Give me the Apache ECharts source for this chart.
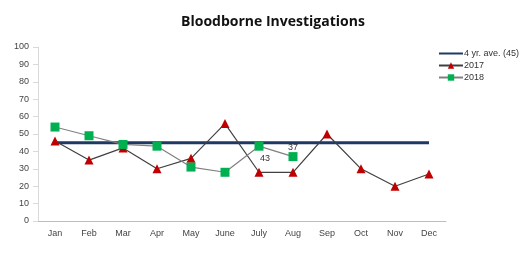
<!DOCTYPE html>
<html>
<head>
<meta charset="utf-8">
<script src="https://cdn.jsdelivr.net/npm/echarts@6/dist/echarts.min.js"></script>
<style>
html, body { margin: 0; padding: 0; background: #fff; }
#main { width: 523px; height: 254px; }
</style>
</head>
<body>
<div id="main"></div>
<script>
// 月份
var months = ['Jan', 'Feb', 'Mar', 'Apr', 'May', 'June', 'July', 'Aug', 'Sep', 'Oct', 'Nov', 'Dec'];
// 4年平均
var avgValues = [45, 45, 45, 45, 45, 45, 45, 45, 45, 45, 45, 45];
// 2017
var values2017 = [46, 35, 42, 30, 36, 56, 28, 28, 50, 30, 20, 27];
// 2018
var values2018 = [54, 49, 44, 43, 31, 28, 43, 37];
var seriesNames = ['4 yr. ave. (45)', '2017', '2018'];

var Chart = echarts.init(document.getElementById('main'));
Chart.setOption({
    animation: false,
    title: {
        text: 'Bloodborne Investigations',
        left: 268,
        top: 10,
        textAlign: 'center',
        textStyle: {
            fontFamily: 'Open Sans',
            fontSize: 14,
            fontWeight: 'bold',
            color: '#111'
        }
    },
    legend: {
        orient: 'vertical',
        left: 433,
        top: 44,
        itemGap: 3,
        itemWidth: 24,
        itemHeight: 8,
        textStyle: { fontSize: 9, color: '#333', padding: [0, 0, 0, -4] },
        data: [
            { name: seriesNames[0], itemStyle: { opacity: 0 } },
            seriesNames[1],
            seriesNames[2]
        ]
    },
    grid: {
        left: 38,
        right: 77,
        top: 47,
        bottom: 33
    },
    xAxis: {
        type: 'category',
        data: months,
        axisLine: { lineStyle: { color: '#bfbfbf' } },
        axisTick: { lineStyle: { color: '#bfbfbf' } },
        axisLabel: { fontSize: 9, color: '#444', margin: 8 }
    },
    yAxis: {
        type: 'value',
        min: 0,
        max: 100,
        interval: 10,
        splitLine: { show: false },
        axisLine: { show: true, lineStyle: { color: '#d9d9d9' } },
        axisTick: { show: true, lineStyle: { color: '#d9d9d9' } },
        axisLabel: { fontSize: 9, color: '#444', margin: 9 }
    },
    series: [
        {
            name: seriesNames[0],
            type: 'line',
            data: avgValues,
            showSymbol: false,
            symbol: 'none',
            lineStyle: { color: '#1f3864', width: 3 },
            itemStyle: { color: '#1f3864' },
            z: 1
        },
        {
            name: seriesNames[1],
            type: 'line',
            data: values2017,
            symbol: 'triangle',
            symbolSize: 9,
            lineStyle: { color: '#404040', width: 1.2 },
            itemStyle: { color: '#c00000', borderWidth: 0 },
            z: 2
        },
        {
            name: seriesNames[2],
            type: 'line',
            data: values2018.map(function (v, i) {
                var item = { value: v };
                if (i === 6) {
                    item.label = { show: true, position: 'bottom', offset: [6, -2] };
                } else if (i === 7) {
                    item.label = { show: true, position: 'top', offset: [0, 5] };
                }
                return item;
            }),
            symbol: 'rect',
            symbolSize: 9,
            label: { show: false, fontSize: 9, color: '#333' },
            lineStyle: { color: '#808080', width: 1.2 },
            itemStyle: { color: '#00b050', borderWidth: 0 },
            z: 3
        }
    ]
});
</script>
</body>
</html>
